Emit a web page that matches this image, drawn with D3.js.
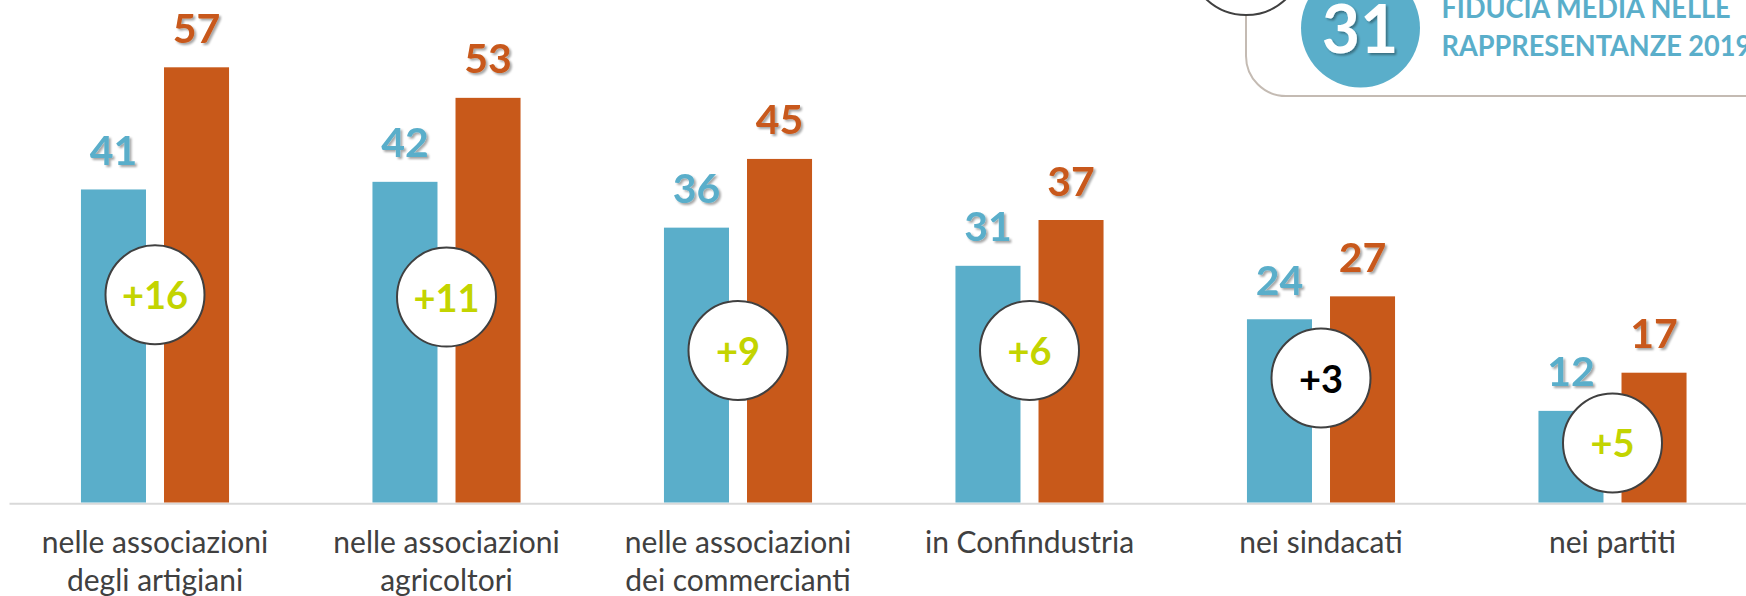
<!DOCTYPE html>
<html>
<head>
<meta charset="utf-8">
<style>
    body { margin: 0; background: #fff; }
    svg { display: block; font-family: Lato, 'Open Sans', sans-serif; }
</style>
</head>
<body>
<svg width="1746" height="596"></svg>

<script src="https://d3js.org/d3.v7.min.js"></script>
<script>
// data
const categories = [
    ["nelle associazioni", "degli artigiani"],
    ["nelle associazioni", "agricoltori"],
    ["nelle associazioni", "dei commercianti"],
    ["in Confindustria"],
    ["nei sindacati"],
    ["nei partiti"]
]
const series = ["2019", "2020"]
const values2019 = [41, 42, 36, 31, 24, 12]
const values2020 = [57, 53, 45, 37, 27, 17]
const significant = [true, true, true, true, false, true]
// where each difference badge sits, in value units
const badgeLevel = [27.2, 26.9, 19.9, 19.9, 16.3, 7.8]
const avgTrust2019 = 31
const avgTitle = ["FIDUCIA MEDIA NELLE", "RAPPRESENTANZE 2019"]

const blue = "#5aaeca", orange = "#c8591a", lime = "#c3d400", dark = "#404040"

let svg = d3.select("svg")
let width = 1746, height = 596
let base = 502.5

let data = categories.map((c, i) => ({
    label: c,
    vals: [values2019[i], values2020[i]],
    diff: values2020[i] - values2019[i],
    sig: significant[i],
    level: badgeLevel[i]
}))

// drop shadow for the big numbers
let defs = svg.append("defs")
defs.append("filter").attr("id", "shadow")
    .attr("x", "-20%").attr("y", "-20%").attr("width", "150%").attr("height", "150%")
    .append("feDropShadow")
    .attr("dx", 2).attr("dy", 2).attr("stdDeviation", 1.2)
    .attr("flood-color", "#000").attr("flood-opacity", 0.35)

let x0 = d3.scaleBand()
    .domain(d3.range(categories.length))
    .range([9.25, 9.25 + 291.5 * categories.length])
    .paddingInner(0.492)
    .paddingOuter(0.246)

let x1 = d3.scaleBand()
    .domain(series)
    .range([0, x0.bandwidth()])
    .paddingInner(0.217)

let y = d3.scaleLinear()
    .domain([0, 60])
    .range([base, base - 7.635 * 60])

let color = d3.scaleOrdinal().domain(series).range([blue, orange])

// top right box
let box = svg.append("g").attr("class", "avg-box")
box.append("path")
    .attr("d", `M1246,10 V56 A40,40 0 0 0 1286,96 H${width + 10}`)
    .attr("fill", "none")
    .attr("stroke", "#c4bbb3")
    .attr("stroke-width", 2)
box.append("circle")
    .attr("cx", 1246).attr("cy", -43).attr("r", 58)
    .attr("fill", "#fff").attr("stroke", dark).attr("stroke-width", 2)
box.append("circle")
    .attr("cx", 1360.5).attr("cy", 28).attr("r", 59.5)
    .attr("fill", blue)
box.append("text")
    .attr("x", 1360).attr("y", 53)
    .attr("text-anchor", "middle")
    .attr("font-weight", 700)
    .attr("font-size", 66)
    .attr("fill", "#fff")
    .attr("filter", "url(#shadow)")
    .text(avgTrust2019)
box.append("g")
    .attr("transform", "translate(1441.5,0) scale(0.935,1)")
    .selectAll(".avg-title")
    .data(avgTitle)
    .join("text")
    .attr("class", "avg-title")
    .attr("x", 0)
    .attr("y", (d, i) => 18.3 + i * 37.7)
    .attr("font-weight", 700)
    .attr("font-size", 29)
    .attr("fill", blue)
    .text(d => d)

// axis line
svg.append("line")
    .attr("x1", 9.5).attr("x2", width)
    .attr("y1", base + 1.2).attr("y2", base + 1.2)
    .attr("stroke", "#d9d9d9")
    .attr("stroke-width", 2)

let groups = svg.append("g").attr("class", "groups")
    .selectAll("g")
    .data(data)
    .join("g")
    .attr("transform", (d, i) => `translate(${x0(i)},0)`)

// bars
groups.selectAll("rect")
    .data(d => d.vals.map((v, j) => ({ key: series[j], v })))
    .join("rect")
    .attr("x", d => x1(d.key))
    .attr("y", d => y(d.v))
    .attr("width", x1.bandwidth())
    .attr("height", d => y(0) - y(d.v))
    .attr("fill", d => color(d.key))

// value labels
groups.selectAll(".val")
    .data(d => d.vals.map((v, j) => ({ key: series[j], v })))
    .join("text")
    .attr("class", "val")
    .attr("x", d => x1(d.key) + x1.bandwidth() / 2)
    .attr("y", d => y(d.v) - 24.5)
    .attr("text-anchor", "middle")
    .attr("font-weight", 700)
    .attr("font-size", 41)
    .attr("fill", d => color(d.key))
    .attr("filter", "url(#shadow)")
    .text(d => d.v)

// difference badges
groups.append("circle")
    .attr("cx", x0.bandwidth() / 2)
    .attr("cy", d => y(d.level))
    .attr("r", 49.5)
    .attr("fill", "#fff")
    .attr("stroke", dark)
    .attr("stroke-width", 2)

groups.append("text")
    .attr("x", x0.bandwidth() / 2)
    .attr("y", d => y(d.level) + 14.5)
    .attr("text-anchor", "middle")
    .attr("font-weight", 700)
    .attr("font-size", 38)
    .attr("fill", d => d.sig ? lime : "#000")
    .text(d => "+" + d.diff)

// category labels
groups.append("text")
    .attr("text-anchor", "middle")
    .attr("font-size", 30)
    .attr("fill", dark)
    .selectAll("tspan")
    .data(d => d.label)
    .join("tspan")
    .attr("x", x0.bandwidth() / 2)
    .attr("y", (d, i) => 553 + i * 38)
    .text(d => d)
</script>
</body>
</html>
